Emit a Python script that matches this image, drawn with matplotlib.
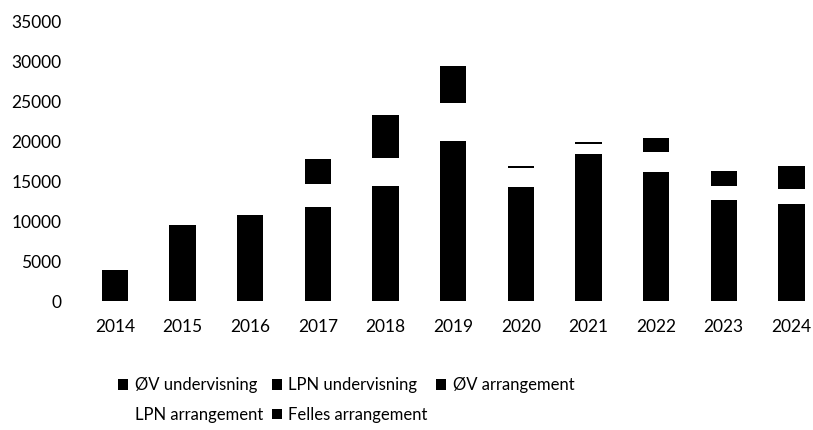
import matplotlib
matplotlib.use("Agg")
import matplotlib.pyplot as plt
import numpy as np

plt.rcParams["font.family"] = ["Lato", "DejaVu Sans"]

years = ["2014", "2015", "2016", "2017", "2018", "2019", "2020", "2021", "2022", "2023", "2024"]
ov_und = [2000, 4800, 4800, 4900, 4500, 4900, 5000, 5000, 5000, 4900, 4900]
lpn_und = [1900, 4700, 4700, 4600, 6500, 4900, 5500, 6500, 6000, 5000, 4800]
ov_arr = [0, 0, 1300, 2300, 3400, 10300, 3800, 6900, 5200, 2800, 2500]
lpn_arr = [0, 0, 0, 2900, 3500, 4700, 2350, 1300, 2500, 1700, 1900]
felles_arr = [0, 0, 0, 3100, 5400, 4700, 250, 200, 1700, 1900, 2800]

series = [
    ("ØV undervisning", ov_und, "black"),
    ("LPN undervisning", lpn_und, "black"),
    ("ØV arrangement", ov_arr, "black"),
    ("LPN arrangement", lpn_arr, "white"),
    ("Felles arrangement", felles_arr, "black"),
]

fig = plt.figure(figsize=(8.13, 4.30), dpi=100)
ax = fig.add_axes([81 / 813, 0.30, (813 - 81) / 813, 0.649])

x = np.arange(len(years))
bottom = np.zeros(len(years))
handles = []
for name, vals, col in series:
    b = ax.bar(x, vals, width=0.39, bottom=bottom, color=col, edgecolor="none", label=name)
    handles.append(b)
    bottom += np.array(vals)

ax.set_xlim(-0.5, 10.32)
ax.set_ylim(0, 35000)
ax.set_yticks(range(0, 35001, 5000))
ax.set_xticks(x)
ax.set_xticklabels(years)
for sp in ax.spines.values():
    sp.set_visible(False)
ax.tick_params(axis="y", length=0, pad=14, labelsize=12.5)
ax.tick_params(axis="x", length=0, pad=13, labelsize=12.5)

# row-major order for a 3-column legend
order = [0, 3, 1, 4, 2]
fig.legend([handles[i] for i in order], [series[i][0] for i in order],
           ncol=3, loc="upper left", bbox_to_anchor=(110 / 813, 1 - 369 / 430),
           frameon=False, fontsize=12, handlelength=0.6, handleheight=0.6,
           handletextpad=0.4, columnspacing=0.5, labelspacing=0.8, borderpad=0)

fig.savefig("out.png", dpi=100)
